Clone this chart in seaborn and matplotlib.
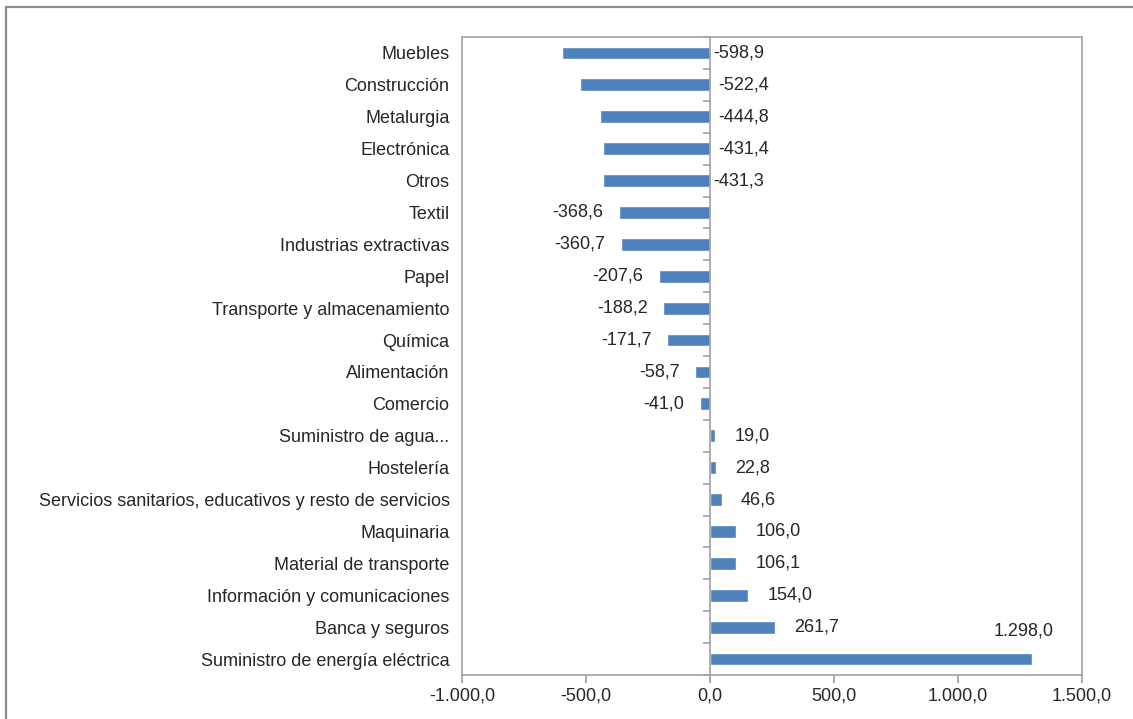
import matplotlib
matplotlib.use("Agg")
import matplotlib.pyplot as plt
import seaborn as sns
from matplotlib.patches import Rectangle

categorias = ["Muebles", "Construcción", "Metalurgia", "Electrónica", "Otros", "Textil",
              "Industrias extractivas", "Papel", "Transporte y almacenamiento", "Química",
              "Alimentación", "Comercio", "Suministro de agua...", "Hostelería",
              "Servicios sanitarios, educativos y resto de servicios", "Maquinaria",
              "Material de transporte", "Información y comunicaciones", "Banca y seguros",
              "Suministro de energía eléctrica"]
valores = [-598.9, -522.4, -444.8, -431.4, -431.3, -368.6, -360.7, -207.6, -188.2, -171.7,
           -58.7, -41.0, 19.0, 22.8, 46.6, 106.0, 106.1, 154.0, 261.7, 1298.0]
xticks = [-1000, -500, 0, 500, 1000, 1500]


def fmt(v):
    s = f"{v:,.1f}"
    return s.replace(",", "X").replace(".", ",").replace("X", ".")


sns.set_style("white")
plt.rcParams["font.family"] = ["Liberation Sans", "DejaVu Sans"]
fs = 13

gris = "#a0a0a0"
fig = plt.figure(figsize=(11.33, 7.19), dpi=100)
ax = fig.add_axes([0.4078, 0.0612, 0.5472, 0.8873])

sns.barplot(x=valores, y=categorias, orient="h", color="#4f81bd", width=0.4,
            saturation=1, ax=ax)
n = len(categorias)
ax.set_ylim(n - 0.5, -0.5)
ax.set_xlim(xticks[0], xticks[-1])
ax.set_xticks(xticks)
ax.set_xticklabels([fmt(t) for t in xticks])
ax.set_xlabel("")
ax.set_ylabel("")
for s in ax.spines.values():
    s.set_color(gris)
    s.set_linewidth(1.2)
ax.tick_params(axis="x", direction="out", length=6, width=1.2, color=gris, pad=3,
               labelsize=fs, bottom=True)
ax.tick_params(axis="y", length=0, pad=9, labelsize=fs)

# eje vertical en el cero con marcas entre categorias
ax2 = ax.twinx()
ax2.set_ylim(ax.get_ylim())
ax2.yaxis.tick_left()
ax2.spines["left"].set_position(("data", 0))
ax2.spines["left"].set_color(gris)
ax2.spines["left"].set_linewidth(1.2)
for k in ["right", "top", "bottom"]:
    ax2.spines[k].set_visible(False)
ax2.set_yticks([i + 0.5 for i in range(-1, n)])
ax2.set_yticklabels([])
ax2.tick_params(axis="y", direction="out", length=5, width=1.2, color=gris)

# etiquetas de datos
for i, v in enumerate(valores):
    if i < 5:
        ax.annotate(fmt(v), (0, i), xytext=(2 if i in (0, 4) else 6, 0),
                    textcoords="offset points", ha="left", va="center", fontsize=fs)
    elif v < 0:
        ax.annotate(fmt(v), (v, i), xytext=(-11, 0), textcoords="offset points",
                    ha="right", va="center", fontsize=fs)
    elif i == n - 1:
        ax.annotate(fmt(v), (v, i - 0.88), xytext=(-6, 0), textcoords="offset points",
                    ha="center", va="center", fontsize=fs)
    else:
        ax.annotate(fmt(v), (v, i), xytext=(14, 0), textcoords="offset points",
                    ha="left", va="center", fontsize=fs)

fig.patches.append(Rectangle((6 / 1133, -0.05), 1.2, 1.05 - 7 / 719, transform=fig.transFigure,
                             fill=False, edgecolor="#8c8c8c", lw=1.6))

fig.savefig("out.png", dpi=100)
